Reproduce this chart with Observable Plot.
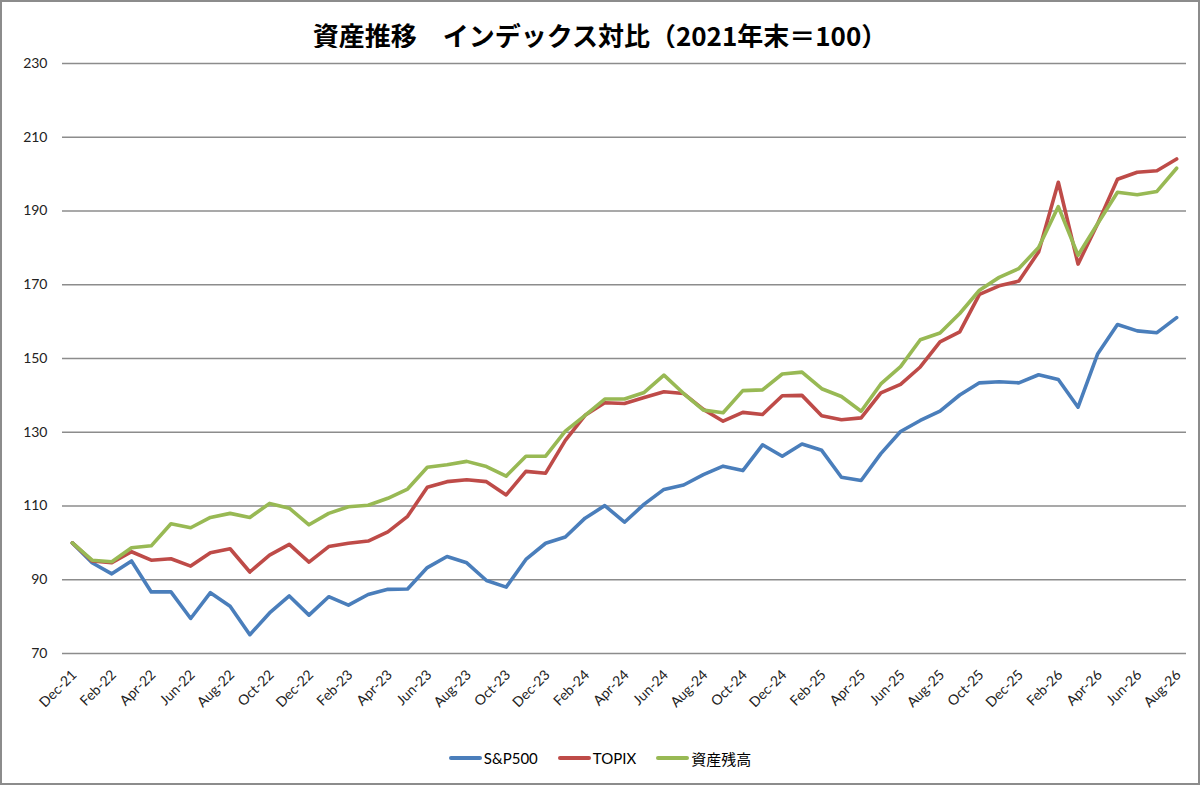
<!DOCTYPE html>
<html>
<head>
<meta charset="utf-8">
<script src="https://cdn.jsdelivr.net/npm/d3@7"></script>
<script src="https://cdn.jsdelivr.net/npm/@observablehq/plot@0.6"></script>
<style>
  html, body { margin: 0; padding: 0; background: #fff; }
  #chart { position: relative; width: 1200px; height: 785px; background: #fff; overflow: hidden; }
  #frame { position: absolute; left: 0; top: 0; width: 1200px; height: 785px; box-sizing: border-box; border: 2px solid #8c8c8c; pointer-events: none; }
  #title { position: absolute; left: 0; top: 0; width: 1200px; height: 48px; padding-top: 22px; box-sizing: border-box;
           text-align: center; font-family: "Noto Sans CJK JP", sans-serif; font-weight: 700; font-size: 26px; line-height: 26px; color: #000; }
  #plot { position: absolute; left: 0; top: 48px; }
  #plot svg text { font-family: Lato, "Open Sans", sans-serif !important; font-size: 14px !important; fill: #222; }
  #legend { position: absolute; left: 0; top: 740px; width: 1200px; height: 36px; display: flex; justify-content: center; align-items: center;
            font-family: Lato, "Noto Sans CJK JP", sans-serif; font-size: 15px; color: #000; }
  .item { display: flex; align-items: center; margin: 0 10px; }
  .sw { display: inline-block; width: 33px; height: 4px; border-radius: 2px; margin-right: 2px; }
</style>
</head>
<body>
<div id="chart">
  <div id="title">資産推移　インデックス対比（2021年末＝100）</div>
  <div id="plot"></div>
  <div id="legend"></div>
  <div id="frame"></div>
</div>
<script>
const months = [
  "Dec-21","Jan-22","Feb-22","Mar-22","Apr-22","May-22","Jun-22","Jul-22","Aug-22","Sep-22","Oct-22","Nov-22",
  "Dec-22","Jan-23","Feb-23","Mar-23","Apr-23","May-23","Jun-23","Jul-23","Aug-23","Sep-23","Oct-23","Nov-23",
  "Dec-23","Jan-24","Feb-24","Mar-24","Apr-24","May-24","Jun-24","Jul-24","Aug-24","Sep-24","Oct-24","Nov-24",
  "Dec-24","Jan-25","Feb-25","Mar-25","Apr-25","May-25","Jun-25","Jul-25","Aug-25","Sep-25","Oct-25","Nov-25",
  "Dec-25","Jan-26","Feb-26","Mar-26","Apr-26","May-26","Jun-26","Jul-26","Aug-26"
];

const sp500 = [
  100, 94.6, 91.6, 95.1, 86.7, 86.7, 79.5, 86.5, 82.8, 75.1, 81.0, 85.6,
  80.4, 85.4, 83.1, 86.0, 87.4, 87.5, 93.3, 96.3, 94.6, 89.8, 88.0, 95.5,
  99.9, 101.6, 106.7, 110.1, 105.6, 110.5, 114.5, 115.7, 118.5, 120.8, 119.6, 126.6,
  123.5, 126.8, 125.1, 117.8, 116.9, 124.2, 130.2, 133.2, 135.7, 140.1, 143.4, 143.7,
  143.4, 145.6, 144.3, 136.8, 151.3, 159.2, 157.5, 157.0, 161.1
];

const topix = [
  100, 95.1, 94.6, 97.6, 95.3, 95.7, 93.7, 97.3, 98.4, 92.1, 96.7, 99.6,
  94.8, 99.0, 99.9, 100.5, 103.0, 107.2, 115.1, 116.6, 117.1, 116.6, 113.0, 119.4,
  118.9, 127.8, 134.6, 138.0, 137.8, 139.4, 141.0, 140.5, 136.2, 133.0, 135.4, 134.8,
  139.9, 140.0, 134.5, 133.4, 133.9, 140.7, 143.0, 147.7, 154.5, 157.2, 167.4, 169.7,
  171.0, 178.9, 197.8, 175.6, 186.6, 198.6, 200.5, 200.9, 204.1
];

const assets = [
  100, 95.3, 94.9, 98.7, 99.2, 105.2, 104.1, 106.9, 108.0, 106.9, 110.7, 109.4,
  104.9, 108.0, 109.8, 110.2, 112.1, 114.6, 120.5, 121.2, 122.1, 120.7, 118.1, 123.5,
  123.5, 130.3, 134.6, 139.0, 139.0, 140.8, 145.5, 140.5, 136.0, 135.3, 141.3, 141.5,
  145.8, 146.3, 141.8, 139.7, 135.7, 143.1, 147.8, 155.1, 156.9, 162.2, 168.5, 172.0,
  174.4, 180.1, 191.2, 178.0, 186.6, 195.1, 194.4, 195.3, 201.6
];

const seriesNames = ["S&P500", "TOPIX", "資産残高"];
const seriesColors = ["#4a7ebb", "#be4b48", "#98b954"];
const yTicks = [70, 90, 110, 130, 150, 170, 190, 210, 230];
const xTicks = months.filter((d, i) => i % 2 === 0);

const seriesValues = [sp500, topix, assets];
const data = [];
seriesNames.forEach((name, s) => {
  seriesValues[s].forEach((v, i) => data.push({ series: name, month: months[i], value: v }));
});

const chart = Plot.plot({
  width: 1200,
  height: 692,
  marginLeft: 62,
  marginRight: 14,
  marginTop: 15,
  marginBottom: 87,
  style: { fontFamily: "Lato, 'Open Sans', sans-serif", fontSize: "14px", color: "#222", background: "#fff" },
  x: { type: "point", domain: months, padding: 0.5, label: null },
  y: { domain: [70, 230], label: null },
  color: { domain: seriesNames, range: seriesColors },
  marks: [
    Plot.ruleY(yTicks, { stroke: "#8c8c8c", strokeWidth: 1.5 }),
    Plot.axisY({ ticks: yTicks, tickSize: 0, tickPadding: 15, label: null }),
    Plot.axisX({ ticks: xTicks, tickSize: 0, tickPadding: 19, tickRotate: -45, label: null, dx: 2 }),
    Plot.line(data, {
      x: "month", y: "value", z: "series", stroke: "series",
      strokeWidth: 3.6, strokeLinejoin: "round", strokeLinecap: "round"
    })
  ]
});
document.getElementById("plot").appendChild(chart);

const legend = document.getElementById("legend");
seriesNames.forEach((name, i) => {
  const item = document.createElement("div");
  item.className = "item";
  const sw = document.createElement("span");
  sw.className = "sw";
  sw.style.background = seriesColors[i];
  const label = document.createElement("span");
  label.textContent = name;
  item.appendChild(sw);
  item.appendChild(label);
  legend.appendChild(item);
});
</script>
</body>
</html>
